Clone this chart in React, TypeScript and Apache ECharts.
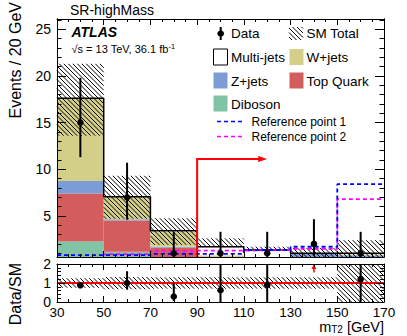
import React, { useEffect, useRef } from "react";
import * as echarts from "echarts";

// ---------------- data ----------------
const binEdges = [30, 50, 70, 90, 110, 130, 150, 170];
const binCenters = [40, 60, 80, 100, 120, 140, 160];

const diboson = [2.25, 1.15, 0.5, 0.1, 0.05, 0.05, 0.05];
const topQuark = [5.15, 3.35, 1.1, 0.2, 0.1, 0.1, 0.1];
const zJets = [1.35, 0.15, 0.1, 0.1, 0.1, 0.8, 0.65];
const wJets = [8.85, 2.4, 1.6, 0.4, 0.25, 0.05, 0.1];
const multiJets = [0, 0, 0.1, 0.9, 0.85, 0.0, 0.1];

const smBandLow = [13.6, 4.7, 1.9, 1.65, 1.3, 0.4, 0.0];
const smBandHigh = [21.3, 9.3, 4.75, 2.6, 1.7, 1.55, 2.4];

const dataValues = [15, 7, 1, 1, 1, 2, 1];
const dataErrHigh = [19.8, 10.7, 3.3, 3.3, 3.3, 4.65, 3.3];
const dataErrLow = [11.3, 4.6, 0.17, 0.17, 0.17, 0.7, 0.17];

const refPoint1 = [0.8, 0.8, 0.93, 0.93, 1.35, 1.7, 8.4];
const refPoint2 = [0.5, 0.9, 1.28, 1.28, 1.35, 1.47, 6.8];

const srCut = 90;
const srArrowLevel = 11.1;
const srArrowEnd = 120;

const ratioValues: (number | null)[] = [0.88, 1.0, 0.29, 0.62, 0.9, null, 1.2];
const ratioErrHigh: (number | null)[] = [0.92, 1.62, 1.0, 2.1, 2.1, null, 2.1];
const ratioErrLow: (number | null)[] = [0.84, 0.65, 0.05, 0, 0, null, 0];
const ratioBandLow = [0.75, 0.67, 0.7, 0.7, 0.7, 0.7, 0];
const ratioBandHigh = [1.25, 1.32, 1.3, 1.3, 1.3, 1.3, 2.1];
const ratioArrowX = 140;
const ratioArrowFrom = 1.55;
const ratioArrowTo = 2.0;

// ---------------- styles ----------------
const FF = "'Liberation Sans', Arial, Helvetica, sans-serif";
const COLORS = {
  diboson: "#80c4a5",
  top: "#d35d5d",
  z: "#7b9cd4",
  w: "#d3cf89",
  multi: "#ffffff",
};

function hatchLines(x0: number, y0: number, x1: number, y1: number, step: number) {
  const lines: any[] = [];
  if (x1 <= x0 || y1 <= y0) return lines;
  const cStart = Math.floor((y0 - x1) / step) * step;
  for (let c = cStart; c <= y1 - x0; c += step) {
    const xa = Math.max(x0, y0 - c);
    const xb = Math.min(x1, y1 - c);
    if (xb > xa) {
      lines.push({
        type: "line",
        shape: { x1: xa, y1: xa + c, x2: xb, y2: xb + c },
        style: { stroke: "#000", lineWidth: 1 },
      });
    }
  }
  return lines;
}

function clampY(y: number, cs: any) {
  return Math.min(Math.max(y, cs.y), cs.y + cs.height);
}

function rectSeries(
  gridIdx: number,
  items: number[][],
  z: number,
  draw: (x0: number, y0: number, x1: number, y1: number) => any
) {
  return {
    type: "custom",
    xAxisIndex: gridIdx === 0 ? 0 : 2,
    yAxisIndex: gridIdx === 0 ? 0 : 4,
    z,
    silent: true,
    data: items,
    encode: { x: [0, 1], y: [2, 3] },
    renderItem: (params: any, api: any) => {
      const cs = params.coordSys;
      const p0 = api.coord([api.value(0), api.value(3)]);
      const p1 = api.coord([api.value(1), api.value(2)]);
      const top = clampY(p0[1], cs);
      const bottom = clampY(p1[1], cs);
      if (bottom - top < 0.01) return null;
      return draw(p0[0], top, p1[0], bottom);
    },
  };
}

function stepData(vals: number[]) {
  return binEdges.map((e, i) => [e, vals[Math.min(i, vals.length - 1)]]);
}

function buildOption() {
  // stacked backgrounds
  const comps = [
    { color: COLORS.diboson, values: diboson },
    { color: COLORS.top, values: topQuark },
    { color: COLORS.z, values: zJets },
    { color: COLORS.w, values: wJets },
    { color: COLORS.multi, values: multiJets },
  ];
  let cum = binCenters.map(() => 0);
  const stackSeries = comps.map((c) => {
    const lower = cum.slice();
    cum = cum.map((v, i) => v + c.values[i]);
    const items = c.values.map((v, i) => [binEdges[i], binEdges[i + 1], lower[i], lower[i] + v]);
    return rectSeries(0, items, 2, (x0, y0, x1, y1) => ({
      type: "rect",
      shape: { x: x0, y: y0, width: x1 - x0, height: y1 - y0 },
      style: { fill: c.color },
    }));
  });
  const smTotal = cum;

  const smBand = rectSeries(
    0,
    smBandLow.map((lo, i) => [binEdges[i], binEdges[i + 1], lo, smBandHigh[i]]),
    3,
    (x0, y0, x1, y1) => ({ type: "group", children: hatchLines(x0, y0, x1, y1, 4.5) })
  );

  const ratioBand = rectSeries(
    1,
    ratioBandLow.map((lo, i) => [binEdges[i], binEdges[i + 1], lo, ratioBandHigh[i]]),
    3,
    (x0, y0, x1, y1) => ({ type: "group", children: hatchLines(x0, y0, x1, y1, 4.5) })
  );

  const stepLine = (vals: number[], color: string, width: number, dashed: boolean, z: number) => ({
    type: "line",
    xAxisIndex: 0,
    yAxisIndex: 0,
    step: "end",
    symbol: "none",
    silent: true,
    z,
    data: stepData(vals),
    lineStyle: { color, width, type: dashed ? [4, 3] : "solid" },
  });

  const pointSeries = (
    gridIdx: number,
    vals: (number | null)[],
    lo: (number | null)[],
    hi: (number | null)[]
  ) => ({
    type: "custom",
    xAxisIndex: gridIdx === 0 ? 0 : 2,
    yAxisIndex: gridIdx === 0 ? 0 : 4,
    z: 8,
    silent: true,
    data: vals
      .map((v, i) => (v == null ? null : [binCenters[i], v, lo[i], hi[i]]))
      .filter((d) => d != null),
    encode: { x: 0, y: 1 },
    renderItem: (params: any, api: any) => {
      const cs = params.coordSys;
      const pc = api.coord([api.value(0), api.value(1)]);
      const pl = api.coord([api.value(0), api.value(2)]);
      const ph = api.coord([api.value(0), api.value(3)]);
      return {
        type: "group",
        children: [
          {
            type: "line",
            shape: { x1: pc[0], y1: clampY(ph[1], cs), x2: pc[0], y2: clampY(pl[1], cs) },
            style: { stroke: "#000", lineWidth: 2 },
          },
          { type: "circle", shape: { cx: pc[0], cy: pc[1], r: 3.3 }, style: { fill: "#000" } },
        ],
      };
    },
  });

  const srArrow = {
    type: "custom",
    xAxisIndex: 0,
    yAxisIndex: 0,
    z: 6,
    silent: true,
    data: [[srCut, srArrowLevel, srArrowEnd]],
    encode: { x: 0, y: 1 },
    renderItem: (params: any, api: any) => {
      const cs = params.coordSys;
      const p = api.coord([api.value(0), api.value(1)]);
      const pe = api.coord([api.value(2), api.value(1)]);
      const bottom = cs.y + cs.height;
      return {
        type: "group",
        children: [
          {
            type: "polyline",
            shape: { points: [[p[0], bottom], [p[0], p[1]], [pe[0] - 6, p[1]]] },
            style: { stroke: "#ff0000", lineWidth: 2, fill: null },
          },
          {
            type: "polygon",
            shape: { points: [[pe[0] - 9, p[1] - 3], [pe[0], p[1]], [pe[0] - 9, p[1] + 3]] },
            style: { fill: "#ff0000" },
          },
        ],
      };
    },
  };

  const ratioArrow = {
    type: "custom",
    xAxisIndex: 2,
    yAxisIndex: 4,
    z: 8,
    silent: true,
    data: [[ratioArrowX, ratioArrowFrom, ratioArrowTo]],
    encode: { x: 0, y: 1 },
    renderItem: (params: any, api: any) => {
      const p0 = api.coord([api.value(0), api.value(1)]);
      const p1 = api.coord([api.value(0), api.value(2)]);
      return {
        type: "group",
        children: [
          {
            type: "line",
            shape: { x1: p0[0], y1: p0[1], x2: p1[0], y2: p1[1] + 3 },
            style: { stroke: "#ff0000", lineWidth: 1.5 },
          },
          {
            type: "polygon",
            shape: { points: [[p1[0] - 2.5, p1[1] + 5], [p1[0], p1[1]], [p1[0] + 2.5, p1[1] + 5]] },
            style: { fill: "#ff0000" },
          },
        ],
      };
    },
  };

  const ratioLine = {
    type: "line",
    xAxisIndex: 2,
    yAxisIndex: 4,
    symbol: "none",
    silent: true,
    z: 5,
    data: [
      [binEdges[0], 1],
      [binEdges[binEdges.length - 1], 1],
    ],
    lineStyle: { color: "#ff0000", width: 2 },
  };

  const black = { color: "#000", width: 1 };
  const xAx = (gridIndex: number, position: string, showLabel: boolean, major: number, minor: number) => ({
    type: "value",
    gridIndex,
    position,
    min: 30,
    max: 170,
    interval: 20,
    z: 10,
    axisLine: { show: true, onZero: false, lineStyle: black },
    axisTick: { show: true, inside: true, length: major, lineStyle: black },
    minorTick: { show: true, splitNumber: 4, length: minor, lineStyle: black },
    splitLine: { show: false },
    axisLabel: { show: showLabel, color: "#000", fontSize: 13.5, fontFamily: FF, margin: 3 },
  });
  const mainY = (position: string, split: number, showLabel: boolean, len: number) => ({
    type: "value",
    gridIndex: 0,
    position,
    min: 0.6,
    max: 26.1,
    splitNumber: split,
    z: 10,
    axisLine: { show: true, onZero: false, lineStyle: black },
    axisTick: { show: true, inside: true, length: len, lineStyle: black },
    splitLine: { show: false },
    axisLabel: {
      show: showLabel,
      color: "#000",
      fontSize: 14,
      fontFamily: FF,
      margin: 6,
      showMinLabel: false,
      showMaxLabel: false,
      formatter: (v: number) =>
        Math.abs(v / 5 - Math.round(v / 5)) < 1e-6 && v >= 5 ? String(Math.round(v)) : "",
    },
  });
  const ratioY = (position: string, showLabel: boolean) => ({
    type: "value",
    gridIndex: 1,
    position,
    min: 0,
    max: 2,
    interval: 1,
    z: 10,
    axisLine: { show: true, onZero: false, lineStyle: black },
    axisTick: { show: true, inside: true, length: 8, lineStyle: black },
    minorTick: { show: true, splitNumber: 5, length: 4, lineStyle: black },
    splitLine: { show: false },
    axisLabel: { show: showLabel, color: "#000", fontSize: 14, fontFamily: FF, margin: 6 },
  });

  const txt = (x: number, y: number, text: string, size: number, extra: any = {}) => ({
    type: "text",
    x,
    y,
    silent: true,
    z: 20,
    style: {
      text,
      fill: "#000",
      fontSize: size,
      fontFamily: FF,
      align: "left",
      verticalAlign: "middle",
      ...extra,
    },
  });
  const box = (x: number, y: number, fill: string, stroke?: string) => ({
    type: "rect",
    silent: true,
    z: 20,
    shape: { x, y, width: 14, height: 16 },
    style: { fill, stroke: stroke || null, lineWidth: 1 },
  });

  const eventsTitle: any = txt(15, 2, "Events / 20 GeV", 16, { align: "right" });
  eventsTitle.rotation = Math.PI / 2;
  const ratioTitle: any = txt(15, 263, "Data/SM", 16, { align: "right" });
  ratioTitle.rotation = Math.PI / 2;

  const graphics: any[] = [
    txt(70, 9.5, "SR-highMass", 14),
    txt(71.5, 31.5, "ATLAS", 14, { fontWeight: "bold", fontStyle: "italic" }),
    {
      type: "text",
      x: 71.5,
      y: 49,
      silent: true,
      z: 20,
      style: {
        text: "√s = 13 TeV, 36.1 fb{s|-1}",
        fill: "#000",
        fontSize: 11,
        fontFamily: FF,
        align: "left",
        verticalAlign: "middle",
        lineHeight: 14,
        rich: { s: { fontSize: 7.5, fontFamily: FF, fill: "#000", verticalAlign: "top", lineHeight: 14 } },
      },
    },
    // legend
    {
      type: "line",
      silent: true,
      z: 20,
      shape: { x1: 220.7, y1: 27, x2: 220.7, y2: 40 },
      style: { stroke: "#000", lineWidth: 2 },
    },
    { type: "circle", silent: true, z: 20, shape: { cx: 220.7, cy: 33.5, r: 3.3 }, style: { fill: "#000" } },
    txt(231, 33.5, "Data", 13.5),
    { type: "group", silent: true, z: 20, children: hatchLines(289, 27, 303, 40, 4.5) },
    txt(306.5, 33.5, "SM Total", 13.5),
    box(213.5, 49, "#fff", "#000"),
    txt(231, 57.5, "Multi-jets", 13.5),
    box(289.5, 49, COLORS.w),
    txt(306.5, 57.5, "W+jets", 13.5),
    box(213.5, 72.5, COLORS.z),
    txt(231, 81, "Z+jets", 13.5),
    box(289.5, 72.5, COLORS.top),
    txt(306.5, 81, "Top Quark", 13.5),
    box(213.5, 95.5, COLORS.diboson),
    txt(231, 104, "Diboson", 13.5),
    {
      type: "line",
      silent: true,
      z: 20,
      shape: { x1: 217, y1: 121.5, x2: 242, y2: 121.5 },
      style: { stroke: "#0000ff", lineWidth: 1.5, lineDash: [4, 3] },
    },
    txt(251.5, 121.5, "Reference point 1", 12),
    {
      type: "line",
      silent: true,
      z: 20,
      shape: { x1: 217, y1: 136.5, x2: 242, y2: 136.5 },
      style: { stroke: "#ff00ff", lineWidth: 1.5, lineDash: [4, 3] },
    },
    txt(251.5, 136.5, "Reference point 2", 12),
    // axis titles
    eventsTitle,
    ratioTitle,
    {
      type: "text",
      x: 384,
      y: 327,
      silent: true,
      z: 20,
      style: {
        text: "m{sub|T2} [GeV]",
        fill: "#000",
        fontSize: 14.5,
        fontFamily: FF,
        align: "right",
        verticalAlign: "middle",
        lineHeight: 15,
        rich: { sub: { fontSize: 10, fontFamily: FF, fill: "#000", verticalAlign: "bottom", lineHeight: 15 } },
      },
    },
  ];

  return {
    animation: false,
    backgroundColor: "#fff",
    textStyle: { fontFamily: FF },
    grid: [
      { left: 57, top: 19, width: 327, height: 238, show: false, containLabel: false },
      { left: 57, top: 264, width: 327, height: 38, show: false, containLabel: false },
    ],
    xAxis: [
      xAx(0, "bottom", false, 6, 3),
      xAx(0, "top", false, 6, 3),
      xAx(1, "bottom", true, 6, 3),
      xAx(1, "top", false, 6, 3),
    ],
    yAxis: [
      mainY("left", 5, true, 9),
      mainY("left", 25, false, 4.5),
      mainY("right", 5, false, 9),
      mainY("right", 25, false, 4.5),
      ratioY("left", true),
      ratioY("right", false),
    ],
    series: [
      ...stackSeries,
      smBand,
      stepLine(smTotal, "#000", 1.5, false, 4),
      stepLine(refPoint2, "#ff00ff", 1.8, true, 5),
      stepLine(refPoint1, "#0000ff", 1.8, true, 5),
      srArrow,
      pointSeries(0, dataValues, dataErrLow, dataErrHigh),
      ratioBand,
      ratioLine,
      pointSeries(1, ratioValues, ratioErrLow, ratioErrHigh),
      ratioArrow,
    ],
    graphic: { elements: graphics },
  };
}

export default function App() {
  const ref = useRef<HTMLDivElement>(null);
  useEffect(() => {
    const chart = echarts.init(ref.current!, null, { renderer: "svg" });
    chart.setOption(buildOption() as any);
    return () => chart.dispose();
  }, []);
  return (
    <div
      ref={ref}
      style={{ position: "absolute", left: 0, top: 0, width: 407, height: 336 }}
    />
  );
}
